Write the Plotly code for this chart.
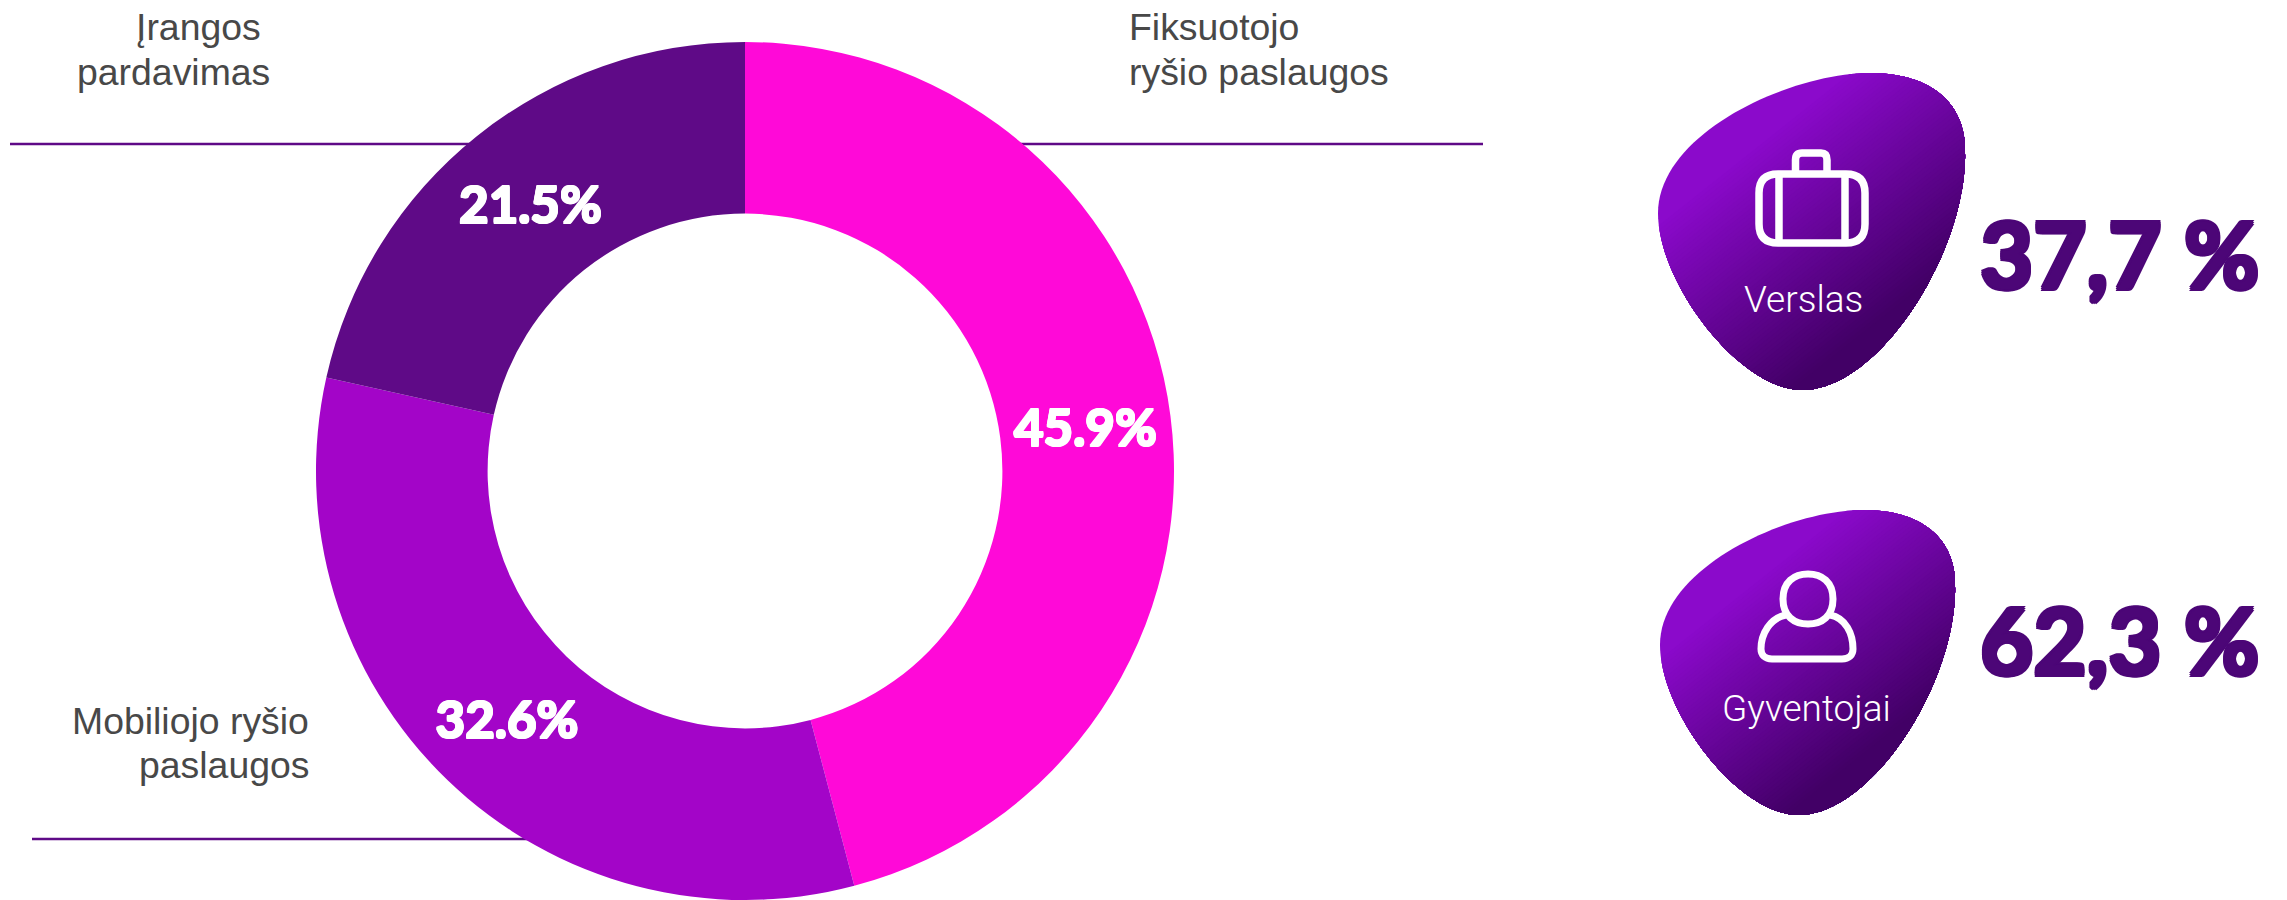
"""Revenue split donut with customer split badges."""

import plotly.graph_objects as go

W, H = 2287, 900

# Donut data
segments = ["Fiksuotojo ryšio paslaugos", "Mobiliojo ryšio paslaugos", "Įrangos pardavimas"]
shares = [45.9, 32.6, 21.5]
segment_colors = ["#FF09D8", "#A305C8", "#5F0A87"]

# Customer split
customers = ["Verslas", "Gyventojai"]
customer_shares = ["37,7 %", "62,3 %"]

# Blob outline as cubic segments, 0..1 in its own box: top, right, bottom, left
blob_nodes = [(0.69, 0.0), (1.0, 0.242), (0.47, 1.0), (0.0, 0.442)]
blob_handles = [
    ((0.90, 0.0), (1.0, 0.105)),
    ((1.01, 0.56), (0.72, 1.0)),
    ((0.264, 1.0), (0.0, 0.66)),
    ((0.0, 0.19), (0.43, 0.0)),
]


def paper(x, y):
    return f"{x / W:.5f},{1 - y / H:.5f}"


def blob_outline(x0, x1, y0, y1, steps=40):
    pts = []
    for i, (c1, c2) in enumerate(blob_handles):
        a, b = blob_nodes[i], blob_nodes[(i + 1) % len(blob_nodes)]
        for s in range(steps):
            t = s / steps
            m = 1 - t
            u = m ** 3 * a[0] + 3 * m * m * t * c1[0] + 3 * m * t * t * c2[0] + t ** 3 * b[0]
            v = m ** 3 * a[1] + 3 * m * m * t * c1[1] + 3 * m * t * t * c2[1] + t ** 3 * b[1]
            pts.append((x0 + (x1 - x0) * u, y0 + (y1 - y0) * v))
    return pts


def clip_from(points, ux, uy, d):
    # keep the part of the polygon where x*ux + y*uy >= d
    out = []
    for i, a in enumerate(points):
        b = points[(i + 1) % len(points)]
        da = a[0] * ux + a[1] * uy - d
        db = b[0] * ux + b[1] * uy - d
        if da >= 0:
            out.append(a)
        if da * db < 0:
            t = da / (da - db)
            out.append((a[0] + (b[0] - a[0]) * t, a[1] + (b[1] - a[1]) * t))
    return out


def poly_path(points):
    return "M " + " L ".join(paper(x, y) for x, y in points) + " Z"


def gradient_blob(x0, x1, y0, y1, steps=60):
    """Plotly has no diagonal fill, so stack shrinking clips of the blob."""
    start, stop = (0x8B, 0x0A, 0xCB), (0x42, 0x00, 0x66)
    pts = blob_outline(x0, x1, y0, y1)
    ux, uy = 0.62, 0.78
    proj = [x * ux + y * uy for x, y in pts]
    low, high = min(proj) + 40, max(proj) - 25
    shapes = []
    for i in range(steps):
        t = i / (steps - 1)
        d = low + (high - low) * t
        part = pts if i == 0 else clip_from(pts, ux, uy, d)
        if len(part) < 3:
            continue
        color = "rgb(%d,%d,%d)" % tuple(start[k] + (stop[k] - start[k]) * t for k in range(3))
        shapes.append(dict(type="path", path=poly_path(part), xref="paper", yref="paper",
                           fillcolor=color, line_width=0, layer="below"))
    return shapes


def icon(path, width=7.5):
    return dict(type="path", path=path, xref="paper", yref="paper",
                line=dict(color="white", width=width), layer="above")


def rule(x0, x1, y):
    return dict(type="line", xref="paper", yref="paper", x0=x0 / W, x1=x1 / W,
                y0=1 - y / H, y1=1 - y / H, line=dict(color="#5F0A87", width=2.5), layer="below")


def q(a, ctrl, b):
    return f"L {paper(*a)} Q {paper(*ctrl)} {paper(*b)}"


def fatten(color, r):
    # Lato stops at bold here, a tight text shadow gives the heavier look
    return ", ".join(f"{dx}px {dy}px 0 {color}" for dx, dy in
                     [(r, 0), (-r, 0), (0, r), (0, -r), (r, r), (-r, -r), (r, -r), (-r, r)])


suitcase_body = (
    f"M {paper(1778, 174)} "
    + q((1846, 174), (1865, 174), (1865, 193)) + " "
    + q((1865, 224), (1865, 243), (1846, 243)) + " "
    + q((1778, 243), (1759, 243), (1759, 224)) + " "
    + q((1759, 193), (1759, 174), (1778, 174)) + " Z"
)
suitcase_handle = (
    f"M {paper(1795.5, 174)} L {paper(1795.5, 160)} Q {paper(1795.5, 153)} {paper(1802, 153)} "
    f"L {paper(1821, 153)} Q {paper(1827, 153)} {paper(1827, 160)} L {paper(1827, 174)}"
)
suitcase_left = f"M {paper(1779, 174)} L {paper(1779, 243)}"
suitcase_right = f"M {paper(1845, 174)} L {paper(1845, 243)}"

person_head = (
    f"M {paper(1783, 599)} C {paper(1783, 582)} {paper(1794, 574)} {paper(1808, 574)} "
    f"C {paper(1822, 574)} {paper(1833, 582)} {paper(1833, 599)} "
    f"C {paper(1833, 616)} {paper(1822, 624)} {paper(1808, 624)} "
    f"C {paper(1794, 624)} {paper(1783, 616)} {paper(1783, 599)} Z"
)
person_body = (
    f"M {paper(1786, 615)} C {paper(1770, 618)} {paper(1761, 634)} {paper(1761, 649)} "
    f"C {paper(1761, 655)} {paper(1765, 659)} {paper(1772, 659)} L {paper(1842, 659)} "
    f"C {paper(1849, 659)} {paper(1853, 655)} {paper(1853, 649)} "
    f"C {paper(1853, 634)} {paper(1846, 618)} {paper(1830, 615)}"
)

fig = go.Figure()

fig.add_trace(go.Pie(
    labels=segments,
    values=shares,
    hole=0.6,
    sort=False,
    direction="clockwise",
    rotation=0,
    marker=dict(colors=segment_colors, line=dict(width=0)),
    texttemplate="%{value:.1f}%",
    textposition="inside",
    insidetextorientation="horizontal",
    textfont=dict(family="Lato", size=51, color="white", weight=700, shadow=fatten("white", 1)),
    domain=dict(x=[316 / W, 1174 / W], y=[0, 1 - 42 / H]),
    showlegend=False,
))

shapes = [rule(10, 500, 144), rule(1000, 1483, 144), rule(32, 540, 839)]
shapes += gradient_blob(1658, 1965, 73, 390)
shapes += gradient_blob(1660, 1955, 510, 815)
shapes += [icon(suitcase_body), icon(suitcase_handle), icon(suitcase_left), icon(suitcase_right),
           icon(person_head, 7), icon(person_body, 7)]


def label(text, x, y, anchor, size=37.4, color="#484848", family="Liberation Sans", weight=400, shadow=None):
    fig.add_annotation(text=text, x=x / W, y=1 - y / H, xref="paper", yref="paper",
                       xanchor=anchor, yanchor="middle", showarrow=False,
                       font=dict(family=family, size=size, color=color, weight=weight, shadow=shadow))


label("Įrangos", 263, 27, "right")
label("pardavimas", 272, 72, "right")
label("Fiksuotojo", 1127, 27, "left")
label("ryšio paslaugos", 1127, 72, "left")
label("Mobiliojo ryšio", 311, 721, "right")
label("paslaugos", 311, 765, "right")

label(customers[0], 1803, 299, "center", size=37, color="white", family="Roboto", weight=300)
label(customers[1], 1806, 708, "center", size=37, color="white", family="Roboto", weight=300)
big = dict(size=92, color="#4C0677", family="Lato", weight=700, shadow=fatten("#4C0677", 2))
label(customer_shares[0], 2119, 254, "center", **big)
label(customer_shares[1], 2119, 639, "center", **big)

fig.update_layout(
    width=W,
    height=H,
    margin=dict(l=0, r=0, t=0, b=0),
    paper_bgcolor="white",
    plot_bgcolor="white",
    shapes=shapes,
)

# the browser's default body margin would push the whole figure 8px in
fig.write_html("out.html", config={"displayModeBar": False},
               post_script="document.body.style.margin='0';")
